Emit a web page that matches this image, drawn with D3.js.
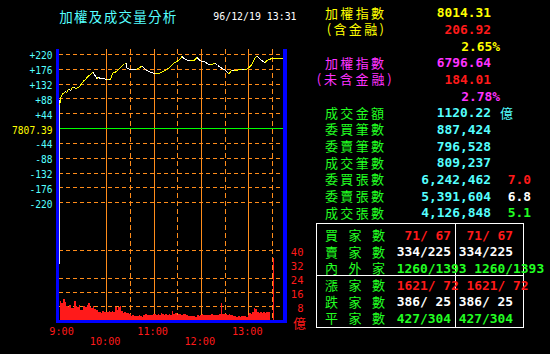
<!DOCTYPE html>
<html><head><meta charset="utf-8">
<script src="https://cdn.jsdelivr.net/npm/d3@7"></script>
<style>html,body{margin:0;padding:0;background:#000;overflow:hidden}</style>
</head><body><svg id="c" width="550" height="354"></svg>
<script>
// ---------------- DATA ----------------
const titleText = "加權及成交量分析";
const dateText = "96/12/19 13:31";
const prevClose = "7807.39";
const priceTicks = [-220, -176, -132, -88, -44, 44, 88, 132, 176, 220];
const volLabelTicks = [8, 16, 24, 32, 40];
const volGridTicks = [8, 16, 24, 40];
const hourTicks = ["10:00", "11:00", "12:00", "13:00"];
const halfHourTicks = ["10:30", "11:30", "12:30", "13:30"];
const timeLabelsTop = ["9:00", "11:00", "13:00"];
const timeLabelsBottom = ["10:00", "12:00"];

// index change vs previous close (points)
const priceTimes = ["09:00","09:01","09:02","09:03","09:04","09:06","09:08","09:10","09:11","09:13","09:15","09:16","09:19","09:21","09:23","09:25","09:27","09:30","09:33","09:35","09:37","09:39","09:41","09:43","09:45","09:48","09:50","09:52","09:55","09:58",
"10:01","10:03","10:05","10:08","10:10","10:13","10:15","10:17","10:19","10:21","10:23","10:25","10:26","10:28","10:30","10:34","10:38","10:40","10:43","10:46","10:48","10:51","10:54","10:57",
"11:00","11:02","11:05","11:08","11:11","11:14","11:17","11:21","11:23","11:25","11:28","11:31","11:34","11:36","11:38","11:40","11:43","11:46","11:49","11:52","11:55","11:57","11:59",
"12:02","12:05","12:08","12:11","12:15","12:18","12:21","12:24","12:27","12:30","12:33","12:35","12:37","12:39","12:42","12:45","12:49","12:52","12:55","12:58",
"13:01","13:04","13:06","13:08","13:11","13:13","13:15","13:18","13:21","13:23","13:25","13:30"];
const priceChanges = [85,69,88,94,100,104,108,105,113,115,112,119,121,117,120,122,126,138,143,149,153,158,161,166,158,148,150,148,147,146,
143,145,143,163,165,168,172,178,183,187,189,192,179,176,175,174,173,177,181,184,177,171,168,165,
163,161,162,163,167,170,175,181,186,192,196,200,206,213,208,204,201,199,201,202,210,204,200,
198,197,192,187,190,192,186,182,177,173,166,161,166,171,170,171,174,175,174,175,
180,187,197,207,214,209,205,199,195,199,202,206.92];

// volume (億) per 2-minute bin starting 09:01
const volumeStart = "09:01";
const volumes = [10.9,9.5,11.8,10.5,8,7.5,8.5,7,7,10.9,8,7.5,8.3,5.7,6,8,7.5,8.5,9.9,7.4,6.8,7.8,6.5,5.5,4.5,4.8,4.2,5,4.4,4.6,
4.8,5.2,4.3,5,4.6,7.6,5.5,7.6,7.9,5,4,4.4,3.8,4.2,3.5,2.3,2.6,2.1,2.5,2.2,2.8,2.3,2.0,2.9,3.3,2.7,3.1,2.6,3.0,3.2,
3.6,2.9,3.4,3.0,3.8,3.2,2.9,3.5,3.1,3.4,3.0,5.1,3.4,3.8,3.1,3.6,3.3,3.0,3.7,3.2,2.6,2.3,2.1,2.5,2.2,2.4,2.0,2.6,2.3,2.9,
3.2,2.7,3.0,2.6,3.1,2.8,3.3,2.9,2.6,3.0,2.7,3.2,9.5,3.6,3.2,3.5,3.0,3.4,3.1,2.8,2.1,2.3,1.9,2.2,2.0,2.4,2.1,2.3,1.9,2.6,
4.0,3.6,4.4,6.9,6.2,4.6,4.0,4.5,3.9,4.3,4.1,4.6,4.8];
const openingVolumeTop = 32;
const closingTime = "13:30";
const closingVolume = 35.2;

// right panel
const indexLabels = ["加權指數", "(含金融)", "加權指數", "(未含金融)"];
const indexValues = ["8014.31", "206.92", "6796.64", "184.01"];
const indexPercents = ["2.65%", "2.78%"];
const statLabels = ["成交金額", "委買筆數", "委賣筆數", "成交筆數", "委買張數", "委賣張數", "成交張數"];
const statValues = ["1120.22", "887,424", "796,528", "809,237", "6,242,462", "5,391,604", "4,126,848"];
const amountUnit = "億";
const ratioValues = ["7.0", "6.8", "5.1"];
const tableLabels = ["買家數", "賣家數", "內外家", "漲家數", "跌家數", "平家數"];
const tableCol1 = [" 71/ 67", "334/225", "1260/1393", "1621/ 72", "386/ 25", "427/304"];
const tableCol2 = [" 71/ 67", "334/225", "1260/1393", "1621/ 72", "386/ 25", "427/304"];

// ---------------- STYLE ----------------
const C = {cyan:"#55ffff", yellow:"#ffff00", red:"#ff1a1a", magenta:"#ff33ff", green:"#22ff22",
  white:"#ffffff", orange:"#ff8c1a", blue:"#0000ff", base:"#00ff00"};
const MONO = "'DejaVu Sans Mono', 'Liberation Mono', monospace";
const CJK = "'Noto Sans CJK TC', 'Noto Sans CJK SC', sans-serif";

const svg = d3.select("#c");
svg.append("rect").attr("width",550).attr("height",354).attr("fill","#000");

const tmin = s => { const [h,m] = s.split(":").map(Number); return (h-9)*60 + m; };
const x = d3.scaleLinear().domain([0, 284]).range([59, 283]);
const yP = d3.scaleLinear().domain([-220, 220]).range([202.3, 54]);
const yV = d3.scaleLinear().domain([0, 40]).range([320, 250]);
const plotTop = 49, plotBottom = yV(0);
const X0 = x(0), X1 = x.range()[1];

function mono(g, px, cy, str, size, color, anchor="start", weight="normal") {
  return g.append("text").attr("x", px).attr("y", cy + size*0.36)
    .attr("font-family", MONO).attr("font-size", size).attr("font-weight", weight)
    .attr("fill", color).attr("text-anchor", anchor).style("white-space","pre").text(str);
}
function cjk(g, px, cy, str, size, color, width=null) {
  const t = g.append("text").attr("x", px).attr("y", cy + size*0.38)
    .attr("font-family", CJK).attr("font-size", size).attr("fill", color).text(str);
  if (width) t.attr("textLength", width).attr("lengthAdjust", "spacing");
  return t;
}

// ---------------- GRID ----------------
const grid = svg.append("g").attr("shape-rendering","crispEdges");
priceTicks.forEach(t => {
  const yy = Math.round(yP(t)) + 0.5;
  grid.append("line").attr("x1",X0).attr("x2",X1).attr("y1",yy).attr("y2",yy)
    .attr("stroke",C.orange).attr("stroke-dasharray","4,3");
});
volGridTicks.forEach(t => {
  const yy = Math.round(yV(t)) + 0.5;
  grid.append("line").attr("x1",X0).attr("x2",X1).attr("y1",yy).attr("y2",yy)
    .attr("stroke",C.orange).attr("stroke-dasharray","4,3");
});
hourTicks.forEach(t => {
  const xx = Math.round(x(tmin(t))) + 0.5;
  grid.append("line").attr("x1",xx).attr("x2",xx).attr("y1",plotTop).attr("y2",plotBottom)
    .attr("stroke",C.orange);
});
halfHourTicks.forEach(t => {
  const xx = Math.round(x(tmin(t))) + 0.5;
  grid.append("line").attr("x1",xx).attr("x2",xx).attr("y1",plotTop).attr("y2",plotBottom)
    .attr("stroke",C.orange).attr("stroke-dasharray","5,3");
});
{
  const yy = Math.round(yP(0)) + 0.5;
  grid.append("line").attr("x1",X0).attr("x2",X1).attr("y1",yy).attr("y2",yy).attr("stroke",C.base);
}

// ---------------- VOLUME ----------------
const vg = svg.append("g").attr("shape-rendering","crispEdges");
const v0 = tmin(volumeStart);
vg.selectAll("rect.v").data(volumes).join("rect").attr("class","v")
  .attr("x", (d,i) => x(v0 + 2*i))
  .attr("width", (d,i) => x(v0 + 2*i + 2) - x(v0 + 2*i))
  .attr("y", d => yV(d)).attr("height", d => yV(0) - yV(d))
  .attr("fill", C.red);
vg.append("rect").attr("x", Math.round(x(tmin(closingTime)))+1).attr("width",1)
  .attr("y", yV(closingVolume)).attr("height", yV(0)-yV(closingVolume)).attr("fill", C.red);

// opening tick
vg.append("line").attr("x1", X0+0.5).attr("x2", X0+0.5)
  .attr("y1", yP(priceChanges[0])).attr("y2", yV(openingVolumeTop))
  .attr("stroke", "#e0e0e0");

// ---------------- PRICE LINE ----------------
const pg = svg.append("g").attr("shape-rendering","crispEdges");
const pts = priceTimes.map((t,i) => [x(tmin(t)), yP(priceChanges[i]), priceChanges[i]]);
for (let i = 1; i < pts.length; i++) {
  pg.append("line").attr("x1",pts[i-1][0]).attr("y1",pts[i-1][1])
    .attr("x2",pts[i][0]).attr("y2",pts[i][1])
    .attr("stroke", pts[i][2] >= pts[i-1][2] ? C.yellow : C.white).attr("stroke-width",1);
}
const last = pts[pts.length-1];
pg.append("line").attr("x1",last[0]).attr("y1",last[1]).attr("x2",X1).attr("y2",last[1])
  .attr("stroke", C.yellow);

// ---------------- FRAME ----------------
const fg = svg.append("g").attr("shape-rendering","crispEdges");
fg.append("rect").attr("x", X0-3).attr("y", plotTop).attr("width",3).attr("height", plotBottom-plotTop+3).attr("fill",C.blue);
fg.append("rect").attr("x", X1).attr("y", plotTop).attr("width",4).attr("height", plotBottom-plotTop+3).attr("fill",C.blue);
fg.append("rect").attr("x", X0-3).attr("y", plotBottom).attr("width", X1-X0+7).attr("height",3).attr("fill",C.blue);

// ---------------- AXIS LABELS ----------------
const ag = svg.append("g");
priceTicks.forEach(t => mono(ag, 52.5, yP(t)+2, (t>0?"+":"") + t, 9.6, C.cyan, "end"));
mono(ag, 52.5, yP(0)+2, prevClose, 9.6, C.yellow, "end");
volLabelTicks.forEach(t => mono(ag, 303.5, yV(t)+2.5, String(t), 10.5, C.red, "end"));
cjk(ag, 293, yV(0)+3, amountUnit, 13, C.red);
timeLabelsTop.forEach((t,i) => mono(ag, x(tmin(t.padStart(5,"0"))) + (i===0?2.6:-1), 331, t, 10.2, C.red, "middle"));
timeLabelsBottom.forEach(t => mono(ag, x(tmin(t)) - 1.2, 341, t, 10.2, C.red, "middle"));

// title + date
cjk(svg, 59.3, 16.7, titleText, 13.5, C.cyan, 117);
mono(svg, 213.3, 16.7, dateText, 9.9, C.white);

// ---------------- RIGHT PANEL ----------------
const rp = svg.append("g");
const rowY = i => 12.7 + i*16.67;
const NS = 12.9, CS = 13;
cjk(rp, 325, rowY(0), indexLabels[0], CS, C.yellow, 59);
mono(rp, 491, rowY(0), indexValues[0], NS, C.yellow, "end", "bold");
cjk(rp, 326.7, rowY(1), indexLabels[1], CS, C.yellow, 57.3);
mono(rp, 491, rowY(1), indexValues[1], NS, C.red, "end", "bold");
mono(rp, 500, rowY(2), indexPercents[0], NS, C.yellow, "end", "bold");
cjk(rp, 325, rowY(3), indexLabels[2], CS, C.magenta, 59);
mono(rp, 491, rowY(3), indexValues[2], NS, C.magenta, "end", "bold");
cjk(rp, 316.7, rowY(4), indexLabels[3], CS, C.magenta, 75);
mono(rp, 491, rowY(4), indexValues[3], NS, C.red, "end", "bold");
mono(rp, 500, rowY(5), indexPercents[1], NS, C.magenta, "end", "bold");

const ratioColors = [C.red, C.white, C.green];
statLabels.forEach((s,i) => {
  cjk(rp, 325, rowY(6+i), s, CS, C.green, 59);
  mono(rp, 491, rowY(6+i), statValues[i], NS, C.cyan, "end", "bold");
});
cjk(rp, 500, rowY(6), amountUnit, CS, C.cyan);
ratioValues.forEach((r,i) => mono(rp, 507.7, rowY(10+i), r, NS, ratioColors[i], "start", "bold"));

// table
const tg = svg.append("g").attr("shape-rendering","crispEdges");
tg.append("rect").attr("x",316.5).attr("y",223.5).attr("width",207).attr("height",104)
  .attr("fill","none").attr("stroke",C.white);
tg.append("line").attr("x1",455.5).attr("x2",455.5).attr("y1",223.5).attr("y2",327.5).attr("stroke",C.white);
tg.append("line").attr("x1",316.5).attr("x2",523.5).attr("y1",275.5).attr("y2",275.5).attr("stroke",C.white);
const tColors = [C.red, C.white, C.green, C.red, C.white, C.green];
tableLabels.forEach((s,i) => {
  const cy = 235 + i*16.67;
  cjk(tg, 325, cy, s, CS, C.green, 60);
  mono(tg, 396.7, cy, tableCol1[i] + " " + tableCol2[i], NS, tColors[i], "start", "bold");
});
</script></body></html>
